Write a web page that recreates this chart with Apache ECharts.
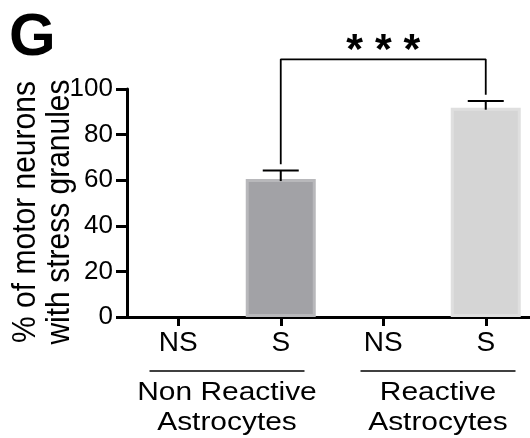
<!DOCTYPE html>
<html><head><meta charset="utf-8">
<script src="https://cdn.jsdelivr.net/npm/echarts@6/dist/echarts.min.js"></script>
<style>html,body{margin:0;padding:0;background:#fff}#c{width:530px;height:438px}</style>
</head><body><div id="c"></div>
<script>
const categories = ['NS', 'S', 'NS', 'S'];
const groupLabels = ['Non Reactive\nAstrocytes', 'Reactive\nAstrocytes'];
const means = [0, 60.5, 0, 91.8];
const sems = [0, 3.7, 0, 2.9];
const yTicks = [0, 20, 40, 60, 80, 100];
const sigLabel = '* * *';
const yTitle = '% of motor neurons\nwith stress granules';
const panelLetter = 'G';

const FONT = '"Liberation Sans", Arial, Helvetica, sans-serif';
const barFill = ['#a2a2a6', '#a2a2a6', '#d5d5d5', '#d5d5d5'];
const barEdge = ['#b8b8bb', '#b8b8bb', '#dfdfdf', '#dfdfdf'];

const chart = echarts.init(document.getElementById('c'), null, {renderer: 'canvas'});

const bracketFrom = 1, bracketTo = 3, bracketLevel = 113, bracketGap = 2.8;

const option = {
  animation: false,
  backgroundColor: '#fff',
  grid: {left: 127, top: 89, width: 410, height: 228, containLabel: false, outerBoundsMode: 'none'},
  xAxis: {
    type: 'category',
    data: categories,
    boundaryGap: true,
    axisLine: {show: true, lineStyle: {color: '#000', width: 3}},
    axisTick: {show: true, alignWithLabel: true, length: 9, lineStyle: {color: '#000', width: 3}},
    axisLabel: {color: '#000', fontSize: 28, fontFamily: FONT, margin: 12, interval: 0},
    splitLine: {show: false}
  },
  yAxis: {
    type: 'value',
    min: yTicks[0],
    max: yTicks[yTicks.length - 1],
    interval: yTicks[1] - yTicks[0],
    axisLine: {show: true, lineStyle: {color: '#000', width: 3}},
    axisTick: {show: true, inside: false, length: 11, lineStyle: {color: '#000', width: 3}},
    axisLabel: {color: '#000', fontSize: 26, fontFamily: FONT, margin: 14},
    splitLine: {show: false}
  },
  series: [
    {
      type: 'bar',
      barWidth: 70,
      data: means.map((v, i) => ({
        value: v,
        itemStyle: {color: barFill[i], borderColor: barEdge[i], borderWidth: v > 0 ? 3 : 0, opacity: v > 0 ? 1 : 0}
      })),
      z: 2
    },
    {
      type: 'custom',
      data: means.map((m, i) => [i, m, sems[i]]),
      encode: {x: 0, y: 1},
      z: 3,
      renderItem: function (params, api) {
        const i = api.value(0), m = api.value(1), e = api.value(2);
        if (!e) return null;
        const base = api.coord([i, m]);
        const top = api.coord([i, m + e]);
        const half = 18;
        return {
          type: 'group',
          children: [
            {type: 'line', shape: {x1: base[0], y1: base[1] + 2, x2: top[0], y2: top[1]}, style: {stroke: '#000', lineWidth: 2}},
            {type: 'line', shape: {x1: top[0] - half, y1: top[1], x2: top[0] + half, y2: top[1]}, style: {stroke: '#000', lineWidth: 2}}
          ]
        };
      }
    },
    {
      type: 'line',
      clip: false,
      symbol: 'none',
      silent: true,
      lineStyle: {color: '#000', width: 1.8},
      data: [
        [bracketFrom, means[bracketFrom] + sems[bracketFrom] + bracketGap],
        [bracketFrom, bracketLevel],
        [bracketTo, bracketLevel],
        [bracketTo, means[bracketTo] + sems[bracketTo] + bracketGap]
      ],
      z: 4
    }
  ]
};
chart.setOption(option);

function px(i) { return chart.convertToPixel({xAxisIndex: 0}, i); }
const sigX = (px(bracketFrom) + px(bracketTo)) / 2;
const sigY = chart.convertToPixel({yAxisIndex: 0}, bracketLevel);

const groupCenters = [227, 438];
const lineHalf = 77.5;
const groupLineY = 371;

chart.setOption({
  graphic: [
    {type: 'text', left: 9, top: 8, style: {text: panelLetter, fontSize: 60, fontWeight: 'bold', fontFamily: FONT, fill: '#000'}},
    {type: 'text', x: sigX, y: sigY - 8, style: {text: sigLabel, fontSize: 43, fontWeight: 'bold', fontFamily: FONT, fill: '#000', align: 'center', verticalAlign: 'middle'}},
    {type: 'text', x: 43, y: 212, rotation: Math.PI / 2, scaleY: 1.12,
      style: {text: yTitle, fontSize: 30, lineHeight: 30, fontFamily: FONT, fill: '#000', align: 'center', verticalAlign: 'middle'}},
    ...groupLabels.map((t, k) => ({
      type: 'line', shape: {x1: groupCenters[k] - lineHalf, y1: groupLineY, x2: groupCenters[k] + lineHalf, y2: groupLineY},
      style: {stroke: '#000', lineWidth: 1.6}
    })),
    ...groupLabels.map((t, k) => ({
      type: 'text', x: groupCenters[k], y: 378, scaleX: 1.15,
      style: {text: t, fontSize: 26, lineHeight: 30, fontFamily: FONT, fill: '#000', align: 'center', verticalAlign: 'top'}
    }))
  ]
});
</script></body></html>
